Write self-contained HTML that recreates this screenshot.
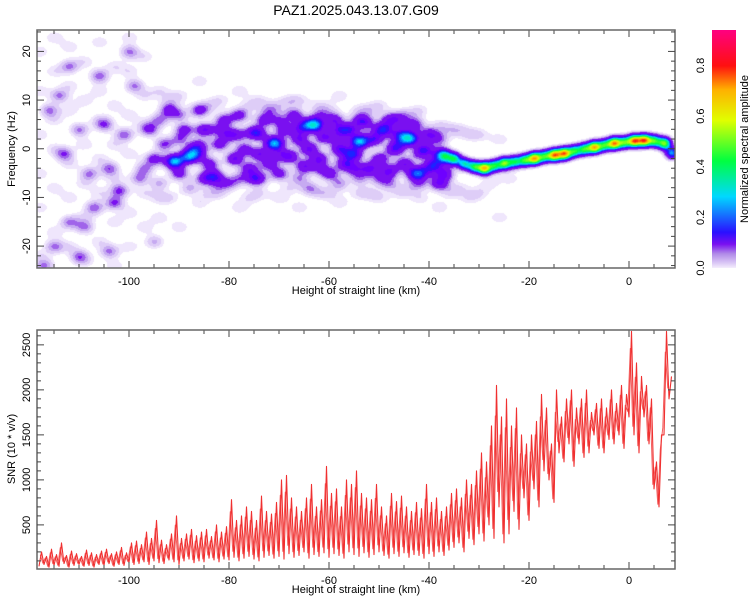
<!DOCTYPE html>
<html><head><meta charset="utf-8"><style>
body{margin:0;background:#fff;width:750px;height:600px;overflow:hidden;font-family:"Liberation Sans",sans-serif;}
#wrap{position:relative;width:750px;height:600px;}
canvas{position:absolute;left:37px;top:30px;}
svg{position:absolute;left:0;top:0;}
</style></head><body><div id="wrap">
<canvas id="spec" width="638" height="238"></canvas>
<svg id="svg" width="750" height="600"></svg>
</div>
<script>
// ---- spectrogram blobs (km, Hz, amplitude) ----
const blobX=[-96,-95,-93,-92,-91,-90,-89,-88,-87,-86,-85,-84,-83,-82,-81,-80,-79,-78,-77,-76,-75,-74,-73,-72,-71,-70,-69,-68,-67,-66,-65,-64,-63,-62,-61,-60,-59,-58,-57,-56,-55,-54,-53,-52,-51,-50,-49,-48,-47,-46,-45,-44,-43,-42,-41,-40,-39,-38,-37,-36,-43,-55,-65,-75,-85,-58,-48,-38,
-94,-90,-86,-82,-78,-74,-70,-66,-62,-58,-54,-50,-46,-42,-38,-94,-90,-86,-82,-78,-74,-70,-66,-62,-58,-54,-50,-46,-42,-88,-80,-72,-64,-56,-48,-40,
-113,-106,-102,-103,-104,-108,-112,-110,-115,-100,-101,-105,-110,-116,-114,-97,-107,-109,-112,-99,-117,-104,-95,-98];
const blobF=[4,-2,1,8,-2.5,-5,4,-1.5,0,8,4,-3,-5.5,1,6,3,-2,7,0,-4,3.5,-1,6,-3,1.2,-5,4,-1.5,7,2,-3.5,0,5,-2,2.5,-5,6,0,-3,4,-1,1.6,5.5,-4,2,-2,4,-4.5,0,3,-3,2.2,5,-5,0,3,-3,-7,-5,-2,-5,-4,5,-6,-6,4,6,-1,
-7,2,-1,-7,-6,3,6,-6,7,-7,6,-6,6,-7,2,6,7,1,4,3,-6,-1,4,-4,2,-6,4,1,-1,-8,-7,8,-8,-1,-7,-4,
-1,15,-8.5,-11,-4,-5,-15,-22,-20,20,3,5,4,8,11,-4,-12,-16,17,13,-24,-21,-19,-6];
const blobA=[.1,.12,.1,.12,.3,.12,.12,.25,.12,.12,.15,.12,.15,.12,.12,.13,.15,.12,.12,.13,.15,.14,.12,.12,.3,.12,.13,.15,.12,.14,.14,.15,.3,.14,.15,.12,.13,.15,.14,.15,.14,.3,.12,.15,.15,.14,.14,.15,.15,.15,.14,.3,.12,.14,.15,.14,.14,.15,.15,.15,.13,.12,.12,.12,.12,.12,.12,.14,
.06,.08,.08,.07,.07,.08,.08,.07,.07,.07,.08,.08,.07,.07,.08,.08,.07,.08,.08,.08,.07,.08,.08,.08,.08,.07,.08,.08,.08,.06,.07,.07,.07,.08,.07,.1,
.09,.09,.1,.1,.09,.08,.08,.08,.08,.08,.09,.09,.08,.08,.08,.08,.09,.08,.08,.08,.08,.08,.06,.08];
// faint background blobs (km, Hz)
const faintX=[-118,-118,-118,-118,-118,-118,-115,-115,-115,-115,-115,-115,-112,-112,-112,-112,-112,-112,-109,-109,-109,-109,-109,-109,-106,-106,-106,-106,-106,-106,-103,-103,-103,-103,-103,-103,-100,-100,-100,-100,-100,-100,-97,-97,-97,-97,-97,
-94,-94,-94,-90,-90,-86,-86,-82,-82,-78,-78,-74,-74,-70,-70,-66,-66,-62,-62,-58,-58,-54,-54,-50,-50,-46,-46,-42,-42,-38,-38,-34,-34,-30,-30,-26,-26,
-92,-84,-76,-68,-60,-52,-44,-92,-84,-76,-68,-60,-52,-44,-36,-32,-28,-24,-36,-32];
const faintF=[-22,-12,-5,3,12,20,-17,-8,0,6,16,23,-20,-10,-3,8,13,21,-23,-14,-7,1,10,18,-19,-9,-2,6,12,22,-24,-15,-6,1,9,17,-20,-13,-1,7,16,23,-16,-9,5,11,19,
12,-10,-14,-16,11,14,-11,10,-9,12,-12,10,-9,9,-10,10,-12,9,-9,11,-11,8,-9,9,-10,7,-9,8,-10,5,-12,4,-8,3,-9,-14,2,
-10,-9,-10,-8,-9,-9,-8,10,9,9,10,8,8,7,4,3,-7,-6,-9,-10];
// dispersion ridge
const ridgeX=[-37,-35,-33,-31,-29,-27,-25,-23,-21,-19,-17,-15,-13,-11,-9,-7,-5,-3,-1,1,3,5,7,8.5];
const ridgeF=[-1.3,-2,-3,-3.6,-3.9,-3.4,-2.9,-2.6,-2.3,-1.9,-1.5,-1.2,-0.9,-0.4,0,0.4,0.8,1.2,1.4,1.7,1.8,1.7,1.2,-0.8];
const ridgeA=[.22,.28,.32,.4,.65,.38,.5,.36,.42,.68,.4,.7,.7,.4,.42,.66,.4,.7,.42,.72,.72,.42,.5,.28];
// ---- SNR series: km positions with low / high samples ----
const snrKm=[];for(let k=-118;k<=8;k++)snrKm.push(k);
const snrLo=[40,60,30,50,40,70,30,50,60,40,50,30,60,50,70,40,60,50,80,60,
70,90,60,100,80,70,110,90,60,100,120,80,100,90,130,110,90,120,
110,140,100,130,150,120,100,140,160,130,
150,120,180,140,160,200,130,170,150,190,140,180,160,130,200,170,150,190,140,170,200,160,130,180,150,190,140,170,160,130,180,150,200,160,220,
250,300,200,350,280,400,320,
500,350,700,300,400,650,450,800,
550,900,700,1100,1000,750,1300,1200,1400,1150,
1400,1250,1300,1500,1350,1300,1450,1400,1500,1350,
1700,1500,1300,1700,1400,900,700,1500,1900];
const snrHi=[200,150,230,170,300,160,210,180,150,220,190,170,210,230,180,200,250,190,300,320,
280,420,350,550,330,280,400,600,350,400,450,380,420,450,370,500,420,480,
780,550,600,700,650,550,820,650,620,750,
1000,1050,800,700,650,800,950,700,780,1150,850,900,700,1000,950,1100,850,800,780,950,700,600,850,760,820,700,650,750,680,950,750,800,650,700,850,
900,800,1000,950,1100,1300,1200,
1600,2050,1700,1900,1600,1800,1500,1400,
1500,1650,1950,1800,1400,2000,1700,1900,2000,1800,
1900,2000,1750,1850,1900,1800,2000,1850,2050,1950,
2650,2300,2150,2050,1900,1200,1500,2650,2150];
const xTicks=[-100,-80,-60,-40,-20,0];
const fTicks=[-20,-10,0,10,20];
const snrTicks=[500,1000,1500,2000,2500];
const cbTicks=[0.0,0.2,0.4,0.6,0.8];

// axes
const X0=37,X1=675,KMIN=-118.4,KMAX=9.2;
const xs=k=>X0+(k-KMIN)/(KMAX-KMIN)*(X1-X0);
const T0=30,T1=268,FMAX=24.4,FMIN=-24.5;
const yf=f=>T0+(FMAX-f)/(FMAX-FMIN)*(T1-T0);
const B0=330,B1=569,SMAX=2665,SMIN=10;
const ys=v=>B0+(SMAX-v)/(SMAX-SMIN)*(B1-B0);
const C0=30,C1=268,CMAX=0.94;
const yc=v=>C1-v/CMAX*(C1-C0);

// ---- heatmap ----
const cv=document.getElementById('spec'),ctx=cv.getContext('2d');
const W=cv.width,H=cv.height,field=new Float32Array(W*H);
function addBlob(k,f,a,sx,sy){const cx=xs(k)-X0,cy=yf(f)-T0;
 for(let y=Math.max(0,Math.floor(cy-3*sy));y<Math.min(H,cy+3*sy);y++)
 for(let x=Math.max(0,Math.floor(cx-3*sx));x<Math.min(W,cx+3*sx);x++){
  const dx=(x-cx)/sx,dy=(y-cy)/sy;field[y*W+x]+=a*Math.exp(-0.5*(dx*dx+dy*dy));}}
for(let i=0;i<blobX.length;i++)addBlob(blobX[i],blobF[i],blobA[i],6.5,4.8);
for(let i=0;i<faintX.length;i++)addBlob(faintX[i],faintF[i],0.032,7.5,5);
for(let i=0;i<ridgeX.length;i++)addBlob(ridgeX[i],ridgeF[i],ridgeA[i],4.5,4);
const stops=[[0.15,[110,0,255]],[0.2,[30,16,255]],[0.3,[0,216,255]],[0.42,[0,255,64]],[0.58,[224,255,0]],[0.7,[255,176,0]],[0.8,[255,16,16]],[0.94,[255,0,128]]];
function rainbow(v){if(v<=stops[0][0])return stops[0][1];
 for(let i=1;i<stops.length;i++)if(v<=stops[i][0]){const t=(v-stops[i-1][0])/(stops[i][0]-stops[i-1][0]);
  return stops[i-1][1].map((c,j)=>Math.round(c+(stops[i][1][j]-c)*t));}
 return stops[stops.length-1][1];}
function cmap(a){if(a<0.02)return[255,255,255];if(a<0.035)return[239,230,252];if(a<0.055)return[222,205,247];
 if(a<0.075)return[198,170,241];if(a<0.095)return[160,100,234];if(a<0.15)return[122,16,240];
 return rainbow(Math.floor(a/0.03)*0.03);}
const img=ctx.createImageData(W,H);
for(let p=0;p<W*H;p++){const c=cmap(Math.min(field[p],0.94));img.data[4*p]=c[0];img.data[4*p+1]=c[1];img.data[4*p+2]=c[2];img.data[4*p+3]=255;}
ctx.putImageData(img,0,0);

// ---- SVG ----
const NS='http://www.w3.org/2000/svg',svg=document.getElementById('svg');
function mk(tag,attrs,parent){const e=document.createElementNS(NS,tag);for(const k in attrs)e.setAttribute(k,attrs[k]);(parent||svg).appendChild(e);return e;}
function txt(s,x,y,size,rot,anchor){const t=mk('text',{x:x,y:y,'font-size':size,'text-anchor':anchor||'middle',fill:'#000','font-family':'Liberation Sans, sans-serif'});
 if(rot)t.setAttribute('transform','rotate(-90 '+x+' '+y+')');t.textContent=s;return t;}

// colorbar
const defs=mk('defs',{});const lg=mk('linearGradient',{id:'cb',x1:0,y1:1,x2:0,y2:0},defs);
[[0,'#f4eefc'],[0.02,'#dccaf6'],[0.06,'#b08ae8'],[0.1,'#7a10f0'],[0.15,'#2a10ff'],[0.3,'#00d8ff'],[0.45,'#00ff40'],[0.62,'#e0ff00'],[0.75,'#ffb000'],[0.85,'#ff1010'],[1,'#ff0080']].forEach(s=>mk('stop',{offset:s[0],'stop-color':s[1]},lg));
const cb=mk('rect',{x:712,y:C0,width:24,height:C1-C0,fill:'url(#cb)'});

cbTicks.forEach(v=>{const t=txt(v.toFixed(1),704,yc(v),11,true);});
const cbt=txt('Normalized spectral amplitude',748,149,11,true);

// title
const ti=txt('PAZ1.2025.043.13.07.G09',356,15,14);

function frame(top,bot,name){
 const g=mk('g',{});
 for(let k=-115;k<=5;k+=5){const x=xs(k),L=(k%20===0)?7:4;
  mk('line',{x1:x,x2:x,y1:bot,y2:bot-L,stroke:'#444','stroke-width':1},g);
  mk('line',{x1:x,x2:x,y1:top,y2:top+L,stroke:'#444','stroke-width':1},g);}
 mk('rect',{x:X0,y:top,width:X1-X0,height:bot-top,fill:'none',stroke:'#666','stroke-width':1.5},g);
 return g;}

// top frame
const gt=frame(T0,T1,'spectrogram-axes');
for(let f=-24;f<=24;f+=2){const y=yf(f),L=(f%10===0)?7:4;
 mk('line',{x1:X0,x2:X0+L,y1:y,y2:y,stroke:'#444'},gt);mk('line',{x1:X1,x2:X1-L,y1:y,y2:y,stroke:'#444'},gt);}
fTicks.forEach(f=>{const t=txt(String(f),30,yf(f),11,true);});
xTicks.forEach(k=>{const t=txt(String(k),xs(k),285,11);});
const xt1=txt('Height of straight line (km)',356,294,11);
const yt1=txt('Frequency (Hz)',15,149,11,true);

// SNR line (two interleaved passes through the same samples)
const clip=mk('clipPath',{id:'cl'},defs);mk('rect',{x:X0,y:B0,width:X1-X0,height:B1-B0},clip);
let d='';for(let i=0;i<snrKm.length;i++){d+=(i?'L':'M')+xs(snrKm[i]).toFixed(1)+','+ys(snrLo[i]).toFixed(1)+'L'+xs(snrKm[i]+0.5).toFixed(1)+','+ys(snrHi[i]).toFixed(1);}
let d2='';for(let i=0;i<snrKm.length-1;i++){
 d2+=(i?'L':'M')+xs(snrKm[i]+0.25).toFixed(1)+','+ys((snrHi[i]+snrLo[i])/2+(snrHi[i]-snrLo[i])*0.3).toFixed(1)+'L'+xs(snrKm[i]+0.75).toFixed(1)+','+ys(snrLo[i+1]+(snrHi[i]-snrLo[i])*0.1).toFixed(1);}
const ln2=mk('path',{d:d2,fill:'none',stroke:'#f46060','stroke-width':1,'stroke-linejoin':'round','clip-path':'url(#cl)'});

const ln=mk('path',{d:d,fill:'none',stroke:'#f03030','stroke-width':1.1,'stroke-linejoin':'round','clip-path':'url(#cl)'});


const gb=frame(B0,B1,'snr-axes');
for(let v=100;v<=2600;v+=100){const y=ys(v),L=(v%500===0)?7:4;
 mk('line',{x1:X0,x2:X0+L,y1:y,y2:y,stroke:'#444'},gb);mk('line',{x1:X1,x2:X1-L,y1:y,y2:y,stroke:'#444'},gb);}
snrTicks.forEach(v=>{const t=txt(String(v),30,ys(v),11,true);});
xTicks.forEach(k=>{const t=txt(String(k),xs(k),584,11);});
const xt2=txt('Height of straight line (km)',356,593,11);
const yt2=txt('SNR (10 * v/v)',15,449,11,true);
</script></body></html>
